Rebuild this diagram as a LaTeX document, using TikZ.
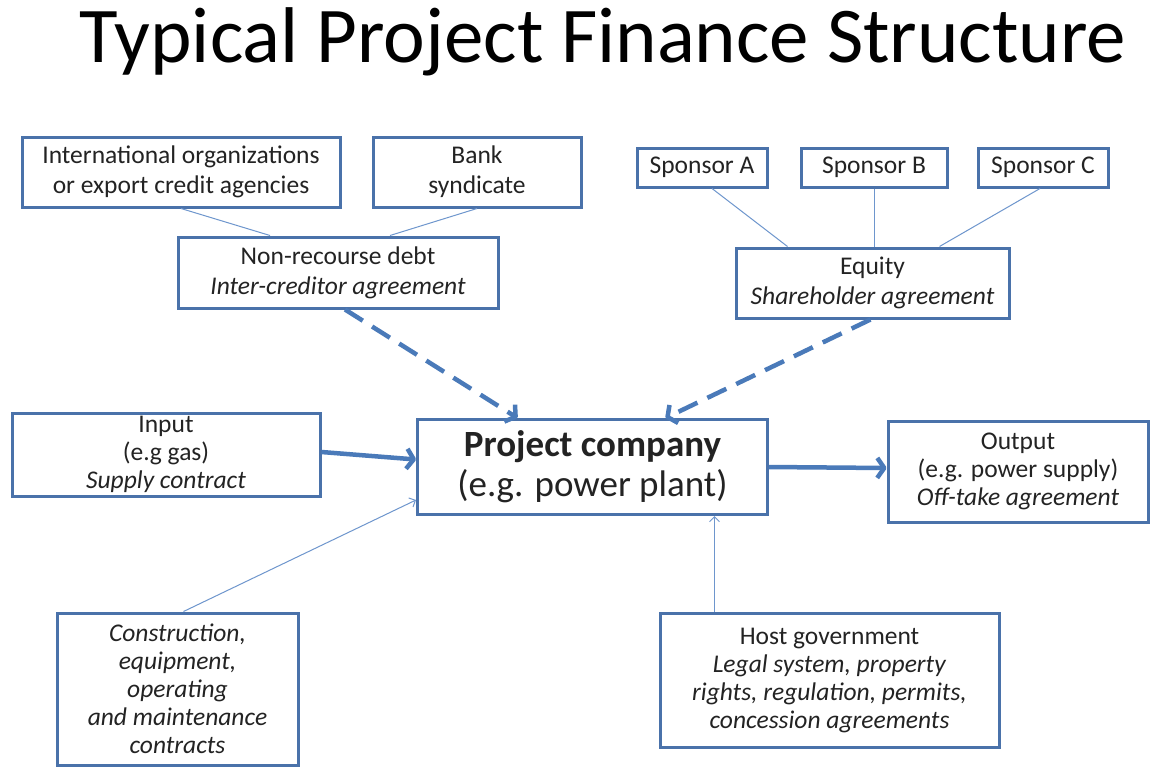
\documentclass[tikz,border=0pt]{standalone}
\usepackage{fontspec}
\setmainfont{Carlito}
\usetikzlibrary{arrows.meta}
\definecolor{boxblue}{RGB}{74,114,170}
\definecolor{linkblue}{RGB}{110,150,205}
\definecolor{arrblue}{RGB}{74,122,185}
\definecolor{txt}{RGB}{35,35,35}
\begin{document}
\begin{tikzpicture}[x=1pt,y=-1pt,
  box/.style={draw=boxblue,line width=3pt,fill=white,inner sep=0pt,align=center,text=txt,font=\fontsize{25.5}{30}\selectfont},
  tightbox/.style={box,font=\fontsize{25.5}{28}\selectfont},
  link/.style={draw=linkblue,line width=1pt},
  thinarrow/.style={draw=linkblue,line width=1pt,-{Straight Barb[length=5pt,width=10pt]}},
  thickarrow/.style={draw=arrblue,line width=4.5pt,-{Straight Barb[length=7pt,width=20pt,line join=round]}},
  dasharrow/.style={draw=arrblue,line width=4.5pt,dash pattern=on 21pt off 11pt,-{Straight Barb[length=7pt,width=20pt,line join=round]}}]
\useasboundingbox[fill=white] (0,0) rectangle (1153,769);
\node[text=black,font=\fontsize{79}{90}\selectfont,anchor=base,inner sep=0pt] (title) at (603,62) {Typical Project Finance Structure};
\node[box,minimum width=318pt,minimum height=70pt] (intorg) at (181,172) {International organizations\\or export credit agencies};
\node[box,minimum width=208pt,minimum height=70pt] (bank) at (477,172) {Bank\\syndicate};
\node[box,minimum width=320pt,minimum height=71pt] (debt) at (338,272.5) {Non-recourse debt\\\textit{Inter-creditor agreement}};
\node[box,minimum width=130pt,minimum height=39pt] (spA) at (702,167.5) {Sponsor A};
\node[box,minimum width=146pt,minimum height=39pt] (spB) at (874,167.5) {Sponsor B};
\node[box,minimum width=130pt,minimum height=39pt] (spC) at (1043,167.5) {Sponsor C};
\node[box,minimum width=273pt,minimum height=70pt] (equity) at (872.5,283) {Equity\\\textit{Shareholder agreement}};
\node[box,minimum width=350pt,minimum height=95pt,font=\fontsize{37}{40}\selectfont] (proj) at (592.5,467) {\textbf{Project company}\\(e.g. power plant)};
\node[tightbox,minimum width=308pt,minimum height=83pt] (input) at (166,454.5) {Input\\(e.g gas)\\\textit{Supply contract}};
\node[tightbox,minimum width=260pt,minimum height=101pt] (output) at (1018,471.5) {Output\\(e.g. power supply)\\\textit{Off-take agreement}};
\node[tightbox,minimum width=241pt,minimum height=152pt] (constr) at (177.5,689) {\textit{Construction,}\\\textit{equipment,}\\\textit{operating}\\\textit{and maintenance}\\\textit{contracts}};
\node[tightbox,minimum width=339pt,minimum height=134pt] (host) at (829.5,680) {Host government\\\textit{Legal system, property}\\\textit{rights, regulation, permits,}\\\textit{concession agreements}};
% links
\draw[link] (intorg.south) -- ([xshift=-68pt]debt.north);
\draw[link] (bank.south) -- ([xshift=52pt]debt.north);
\draw[link] ([xshift=10pt]spA.south) -- ([xshift=-85pt]equity.north);
\draw[link] (spB.south) -- ([xshift=1.5pt]equity.north);
\draw[link] ([xshift=-3pt]spC.south) -- ([xshift=67pt]equity.north);
% arrows
\draw[dasharrow] ([xshift=7pt]debt.south) -- ([xshift=-75pt]proj.north);
\draw[dasharrow] ([xshift=-2pt]equity.south) -- ([xshift=73pt]proj.north);
\draw[thickarrow] ([yshift=2.5pt]input.east) -- ([yshift=7.5pt]proj.west);
\draw[thickarrow] ([yshift=0pt]proj.east) -- ([yshift=3.5pt]output.west);
\draw[thinarrow] ([xshift=6pt]constr.north) -- ([yshift=-33pt]proj.west);
\draw[thinarrow] ([xshift=-115pt]host.north) -- ([xshift=122pt]proj.south);
\end{tikzpicture}
\end{document}
